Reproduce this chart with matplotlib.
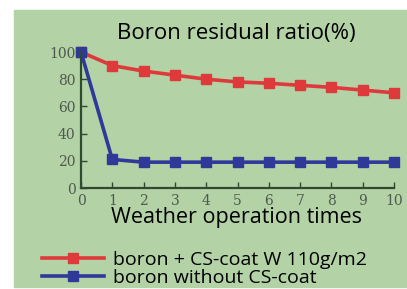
import matplotlib.pyplot as plt
from matplotlib.patches import Rectangle

# weather operation times
times = [0, 1, 2, 3, 4, 5, 6, 7, 8, 9, 10]
# boron residual ratio (%)
with_coat = [100, 90, 86, 83, 80, 78, 77, 75.5, 74, 72, 70]
without_coat = [100, 21, 19, 19, 19, 19, 19, 19, 19, 19, 19]

label_coat = 'boron + CS-coat W 110g/m2'
label_plain = 'boron without CS-coat'

bg = '#b3d2a6'
axis_col = '#2f4a2f'
red = '#de3a3c'
blue = '#2f3a98'

fig = plt.figure(figsize=(4.07, 2.89), dpi=100)
fig.add_artist(Rectangle((14 / 407, 2 / 289), 1, 277 / 289,
                         transform=fig.transFigure, color=bg, zorder=-5))

ax = fig.add_axes([81 / 407, 1 - 188 / 289, 313 / 407, 136 / 289])
ax.set_facecolor('none')
l1, = ax.plot(times, with_coat, color=red, lw=2.6, marker='s', ms=7, clip_on=False)
l2, = ax.plot(times, without_coat, color=blue, lw=2.6, marker='s', ms=7, clip_on=False)

ax.set_xlim(0, 10)
ax.set_ylim(0, 100)
ax.set_xticks(times)
ax.set_yticks([0, 20, 40, 60, 80, 100])
for s in ['top', 'right']:
    ax.spines[s].set_visible(False)
for s in ['left', 'bottom']:
    ax.spines[s].set_color(axis_col)
    ax.spines[s].set_linewidth(1.6)
ax.tick_params(direction='in', length=4, width=1, color=axis_col,
               labelcolor='#4f5a4f', labelsize=10, pad=4)
for t in ax.get_xticklabels() + ax.get_yticklabels():
    t.set_family('DejaVu Serif')

fig.text(0.58, 1 - 33 / 289, 'Boron residual ratio(%)', ha='center', va='center',
         family='Open Sans', fontsize=16)
fig.text(0.58, 1 - 218 / 289, 'Weather operation times', ha='center', va='center',
         family='Open Sans', fontsize=15.5)

fig.legend([l1, l2], [label_coat, label_plain], loc='lower left',
           bbox_to_anchor=(42 / 407, 2 / 289), frameon=False, numpoints=1,
           borderpad=0, borderaxespad=0,
           handlelength=3.2, handletextpad=0.45, labelspacing=0.0,
           prop={'family': 'Open Sans', 'size': 14})

plt.savefig('out.png', dpi=100)
